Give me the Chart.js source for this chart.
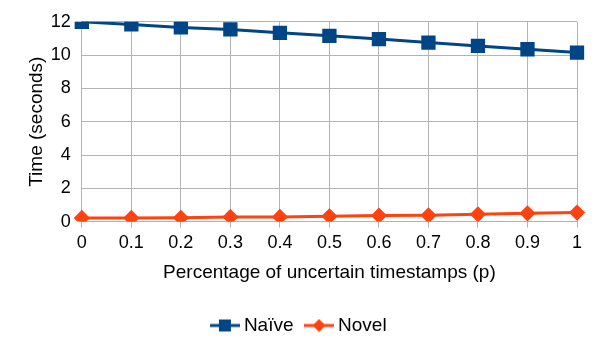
<!DOCTYPE html>
<html><head><meta charset="utf-8">
<script src="https://cdn.jsdelivr.net/npm/chart.js@4/dist/chart.umd.min.js"></script>
<style>html,body{margin:0;padding:0;background:#fff}#wrap{width:605px;height:340px}</style>
</head><body><div id="wrap"><canvas id="c" width="605" height="340"></canvas></div>
<script>
const categories = ['0','0.1','0.2','0.3','0.4','0.5','0.6','0.7','0.8','0.9','1'];
const naive = [12.0, 11.84, 11.66, 11.54, 11.34, 11.16, 10.96, 10.75, 10.55, 10.35, 10.15];
const novel = [0.22, 0.22, 0.23, 0.28, 0.28, 0.32, 0.36, 0.38, 0.44, 0.5, 0.54];
const yTicks = [0, 2, 4, 6, 8, 10, 12];
const FONT = 'Liberation Sans, Arial, sans-serif';

function legendIcon(color, style) {
  const c = document.createElement('canvas');
  c.width = 30; c.height = 14;
  const x = c.getContext('2d');
  x.strokeStyle = color; x.fillStyle = color; x.lineWidth = 3;
  x.beginPath(); x.moveTo(0, 7); x.lineTo(30, 7); x.stroke();
  if (style === 'rect') { x.fillRect(9, 1, 12, 12); }
  else { x.beginPath(); x.moveTo(15, 0.5); x.lineTo(21.5, 7); x.lineTo(15, 13.5); x.lineTo(8.5, 7); x.closePath(); x.fill(); }
  return c;
}

const legendFit = {
  id: 'legendFit',
  beforeLayout(chart) {
    const lg = chart.legend;
    if (lg && !lg._patched) {
      const f = lg.fit;
      lg.fit = function () { f.call(this); this.height = 36; };
      lg._patched = true;
    }
  }
};

new Chart(document.getElementById('c'), {
  type: 'line',
  plugins: [legendFit],
  data: {
    labels: categories,
    datasets: [
      { label: 'Naïve', data: naive, borderColor: '#004586', backgroundColor: '#004586', borderWidth: 3,
        pointStyle: 'rect', pointRadius: 8, pointHoverRadius: 8, tension: 0 },
      { label: 'Novel', data: novel, borderColor: '#ff420e', backgroundColor: '#ff420e', borderWidth: 3,
        pointStyle: 'rectRot', pointRadius: 6, pointHoverRadius: 6, tension: 0 }
    ]
  },
  options: {
    responsive: false, animation: false, devicePixelRatio: 1,
    layout: { padding: { left: 25, right: 28, top: 7, bottom: 4 } },
    plugins: {
      tooltip: { enabled: false },
      legend: {
        position: 'bottom',
        labels: {
          font: { family: FONT, size: 19 }, color: '#000', usePointStyle: true, padding: 16,
          generateLabels: (chart) => chart.data.datasets.map((d, i) => ({
            text: d.label, fillStyle: d.borderColor, strokeStyle: d.borderColor, fontColor: '#000',
            pointStyle: legendIcon(d.borderColor, d.pointStyle), datasetIndex: i, lineWidth: 0
          }))
        }
      }
    },
    scales: {
      x: {
        type: 'category', offset: false,
        grid: { color: '#b3b3b3', lineWidth: 1, drawTicks: true, tickLength: 6 },
        border: { color: '#b3b3b3' },
        ticks: { font: { family: FONT, size: 18 }, color: '#000', padding: 5, maxRotation: 0 },
        title: { display: true, text: 'Percentage of uncertain timestamps (p)', font: { family: FONT, size: 19 }, color: '#000', padding: { top: 2, bottom: 16 } }
      },
      y: {
        min: 0, max: 12,
        afterBuildTicks: (ax) => { ax.ticks = yTicks.map(v => ({ value: v })); },
        grid: { color: '#b3b3b3', lineWidth: 1, drawTicks: false },
        border: { color: '#b3b3b3' },
        ticks: { font: { family: FONT, size: 18 }, color: '#000', padding: 11 },
        title: { display: true, text: 'Time (seconds)', font: { family: FONT, size: 19 }, color: '#000', padding: { top: 0, bottom: -8 } }
      }
    }
  }
});
</script></body></html>
